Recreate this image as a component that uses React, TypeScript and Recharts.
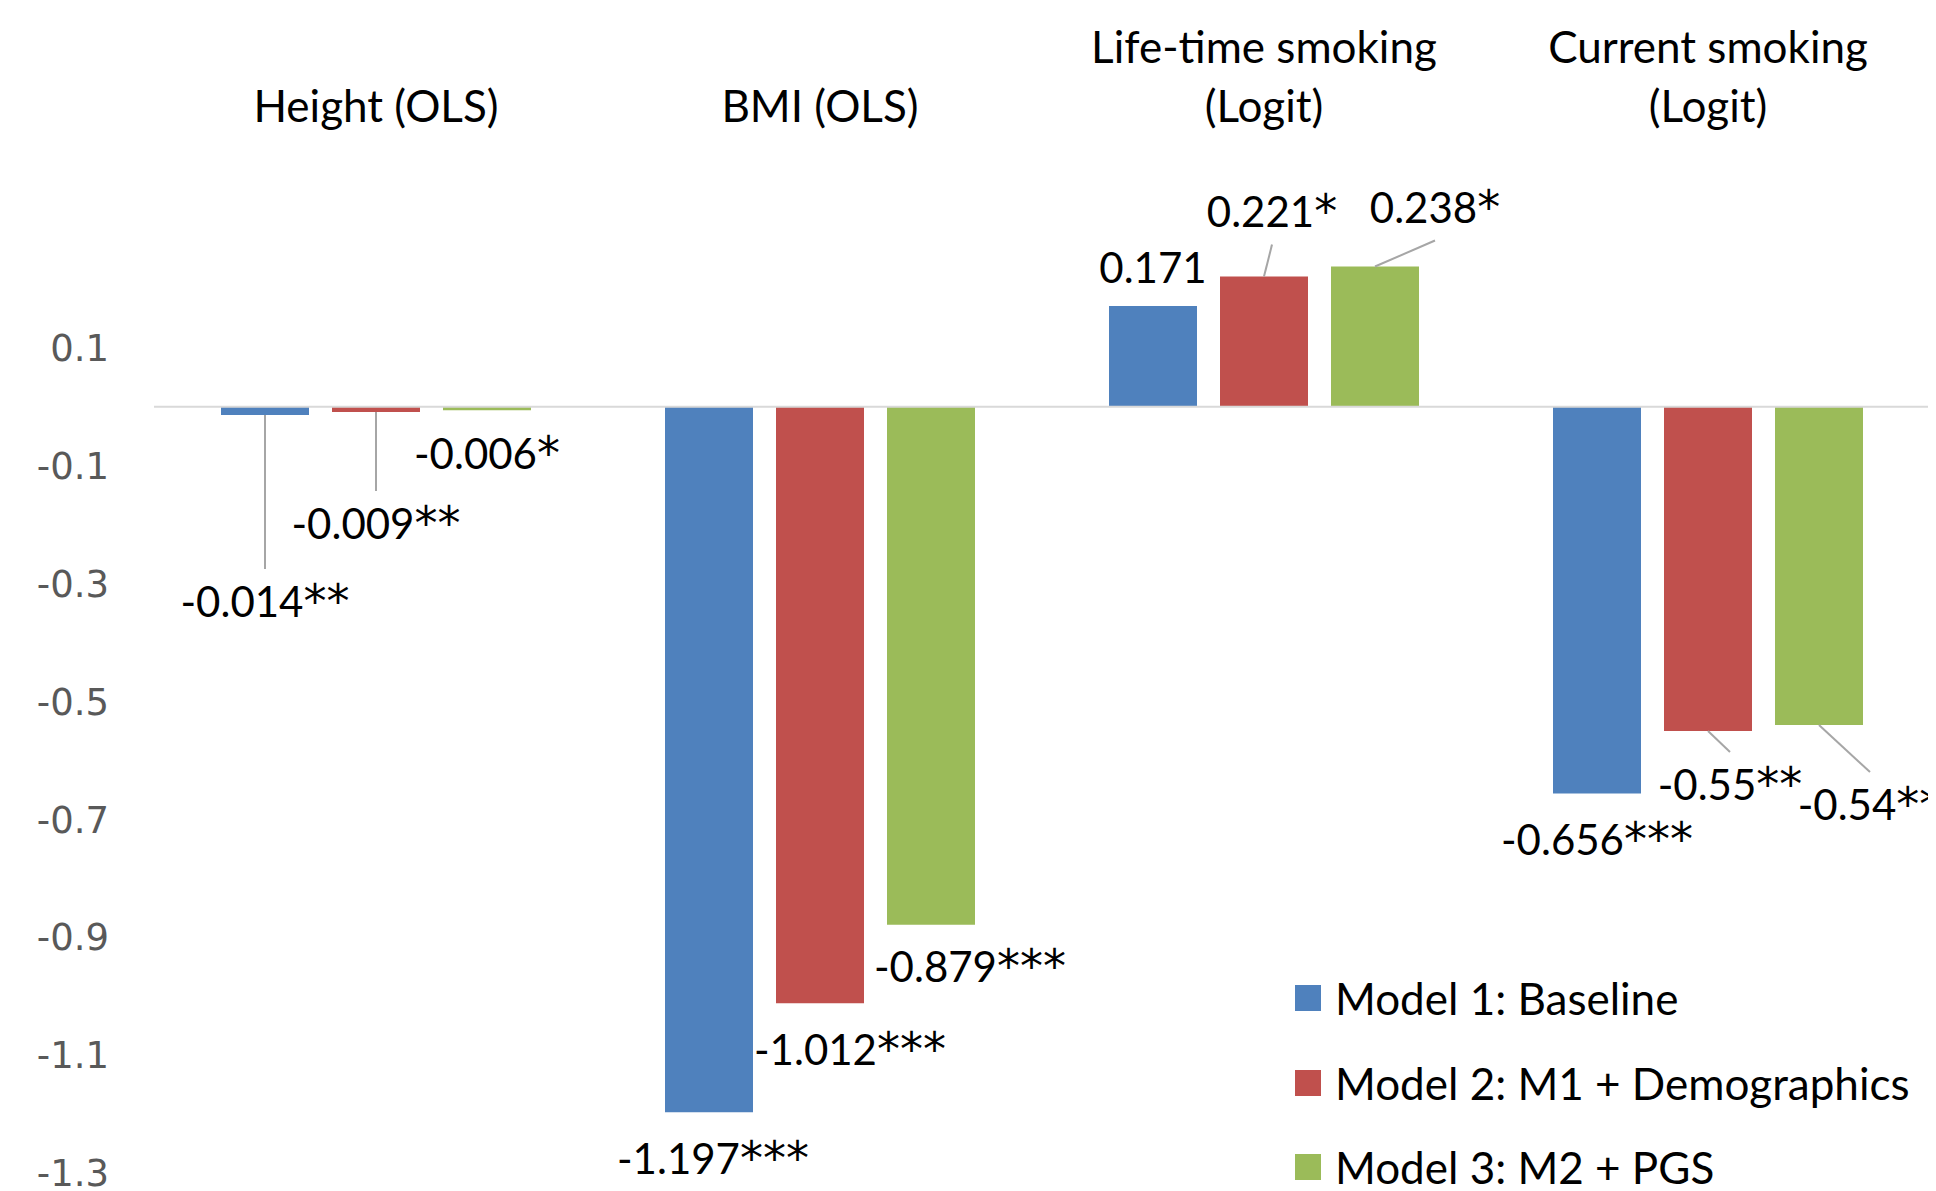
import React from "react";
import { BarChart, Bar, XAxis, YAxis, ReferenceLine, LabelList, Legend } from "recharts";

const categories = ["Height (OLS)", "BMI (OLS)", "Life-time smoking\n(Logit)", "Current smoking\n(Logit)"];
const model1 = [-0.014, -1.197, 0.171, -0.656];
const model2 = [-0.009, -1.012, 0.221, -0.55];
const model3 = [-0.006, -0.879, 0.238, -0.54];
const stars1 = ["**", "***", "", "***"];
const stars2 = ["**", "***", "*", "**"];
const stars3 = ["*", "***", "*", "**"];
const yTicks = [-1.3, -1.1, -0.9, -0.7, -0.5, -0.3, -0.1, 0.1];

const seriesNames = ["Model 1: Baseline", "Model 2: M1 + Demographics", "Model 3: M2 + PGS"];
const colors = ["#4f81bd", "#c0504d", "#9bbb59"];

// label placement (layout only): offset of label centre from bar end
const placement = [
  [{ dx: 0, dy: 187, leader: true }, { dx: 4, dy: 47 }, { dx: 0, dy: -38 }, { dx: 0, dy: 46 }],
  [{ dx: 0, dy: 112, leader: true }, { dx: 30, dy: 47 }, { dx: 8, dy: -65, leader: true }, { dx: 22, dy: 54, leader: true }],
  [{ dx: 0, dy: 44 }, { dx: 39, dy: 42 }, { dx: 60, dy: -59, leader: true }, { dx: 51, dy: 80, leader: true }],
];

const rows = categories.map((c, i) => ({ category: c, m1: model1[i], m2: model2[i], m3: model3[i] }));
const starSets = [stars1, stars2, stars3];

const FONT = "Lato, 'Open Sans', sans-serif";

const makeLabel = (s: number) => (props: any) => {
  const { x, y, width, height, value, index } = props;
  const cx = Number(x) + Number(width) / 2;
  const y0 = Number(y);
  const y1 = Number(y) + Number(height);
  const end = value < 0 ? Math.max(y0, y1) : Math.min(y0, y1);
  const p = placement[s][index];
  const lx = cx + p.dx;
  const ly = end + p.dy;
  const dir = p.dy > 0 ? -1 : 1;
  return (
    <g>
      {p.leader && (
        <line x1={cx} y1={end} x2={lx} y2={ly + dir * 33} stroke="#a6a6a6" strokeWidth={2} />
      )}
      <text x={lx} y={ly} dy="0.36em" textAnchor="middle" fontFamily={FONT} fontSize={42} fill="#000">
        {String(value)}
        <tspan fontFamily="'DejaVu Sans', sans-serif" fontSize={46}>{starSets[s][index]}</tspan>
      </text>
    </g>
  );
};

const CatTick = (props: any) => {
  const { x, y, payload } = props;
  const lines = String(payload.value).split("\n");
  const n = lines.length;
  return (
    <g>
      {lines.map((l, i) => (
        <text key={i} x={x} y={y - 123 - (n - 1 - i) * 59} dy="0.35em" textAnchor="middle" fontFamily={FONT} fontSize={44} fill="#000">
          {l}
        </text>
      ))}
    </g>
  );
};

const LegendContent = () => (
  <div style={{ fontFamily: FONT, fontSize: 44, color: "#000" }}>
    {seriesNames.map((n, i) => (
      <div key={n} style={{ height: 84.5, display: "flex", alignItems: "center", whiteSpace: "nowrap" }}>
        <span style={{ display: "inline-block", width: 26, height: 26, background: colors[i], marginRight: 14 }} />
        <span>{n}</span>
      </div>
    ))}
  </div>
);

export default function App() {
  return (
    <BarChart
      width={1928}
      height={1183}
      data={rows}
      margin={{ top: 0, right: 6, bottom: 18, left: 0 }}
      barSize={88}
      barGap={23}
    >
      <XAxis
        dataKey="category"
        orientation="top"
        height={222}
        axisLine={false}
        tickLine={false}
        tickSize={0}
        tickMargin={0}
        interval={0}
        tick={<CatTick />}
      />
      <YAxis
        domain={[-1.3, 0.3]}
        ticks={yTicks}
        interval={0}
        width={146}
        axisLine={false}
        tickLine={false}
        tickSize={0}
        tickMargin={45}
        tick={{ fill: "#595959", fontSize: 37, fontFamily: "'DejaVu Sans', sans-serif" }}
      />
      <ReferenceLine y={0} stroke="#d9d9d9" strokeWidth={2} />
      {["m1", "m2", "m3"].map((k, s) => (
        <Bar key={k} dataKey={k} name={seriesNames[s]} fill={colors[s]} isAnimationActive={false}>
          <LabelList dataKey={k} content={makeLabel(s)} />
        </Bar>
      ))}
      <Legend
        layout="vertical"
        align="center"
        verticalAlign="middle"
        wrapperStyle={{ left: 1287, top: 948, width: "auto", height: "auto" }}
        content={<LegendContent />}
      />
    </BarChart>
  );
}
